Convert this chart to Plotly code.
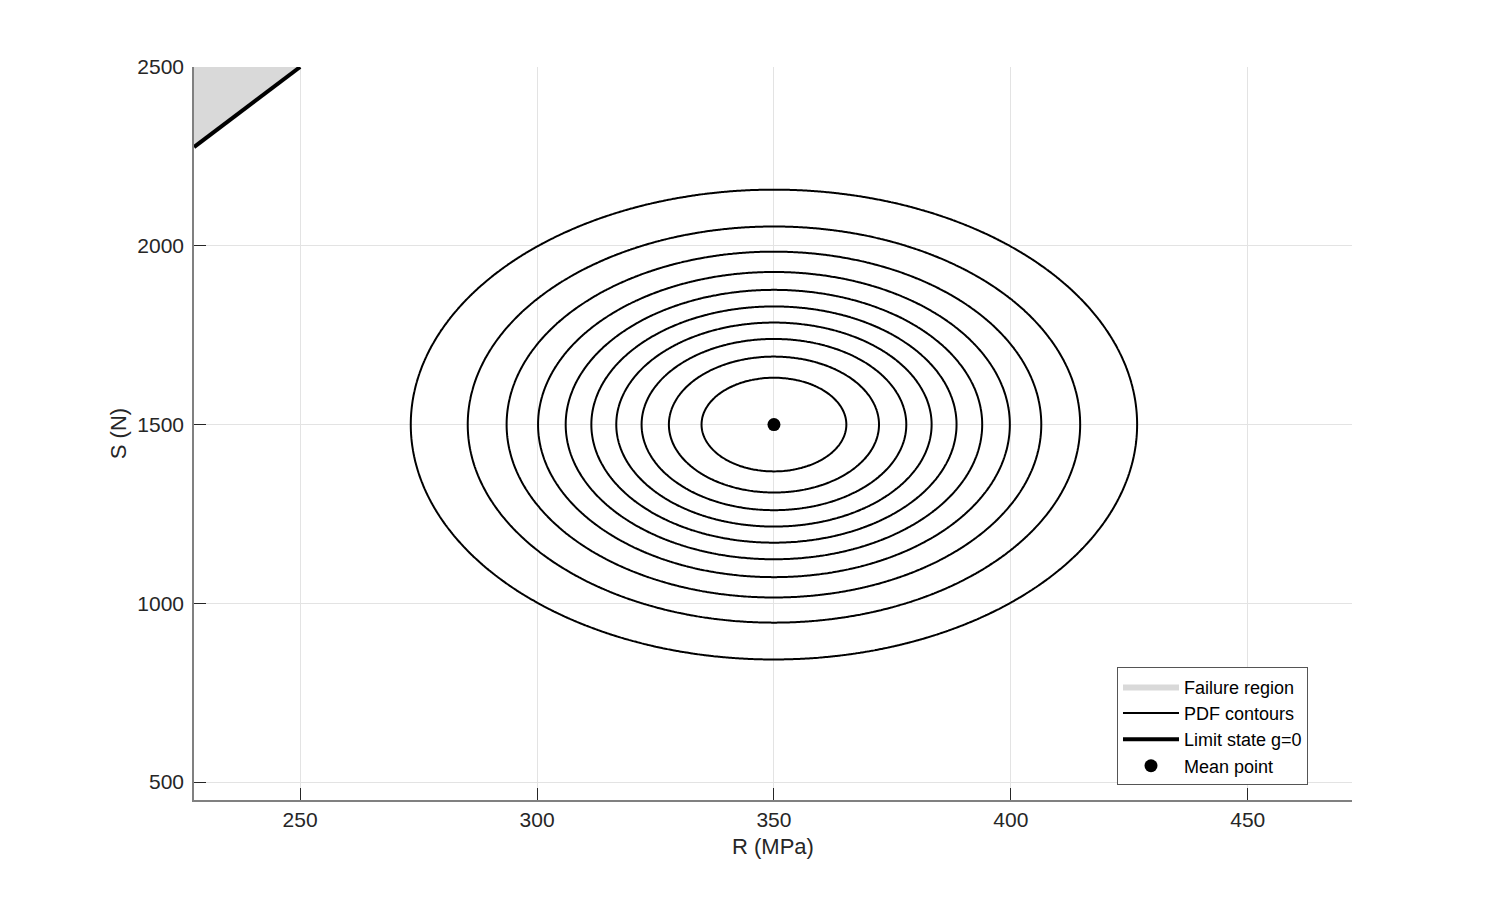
import numpy as np
import plotly.graph_objects as go

# Parameters
mu_R, sig_R = 350.0, 35.0      # R (MPa)
mu_S, sig_S = 1500.0, 300.0    # S (N)
limit_slope = 10.0             # g = 10*R - S = 0
n_levels = 10

x_range = [227.6, 472.0]
y_range = [450.0, 2500.0]
x_ticks = [250, 300, 350, 400, 450]
y_ticks = [500, 1000, 1500, 2000, 2500]

# PDF grid
xg = np.linspace(x_range[0], x_range[1], 500)
yg = np.linspace(y_range[0], y_range[1], 500)
X, Y = np.meshgrid(xg, yg)
Z = np.exp(-0.5 * (((X - mu_R) / sig_R) ** 2 + ((Y - mu_S) / sig_S) ** 2)) / (2 * np.pi * sig_R * sig_S)
peak = 1.0 / (2 * np.pi * sig_R * sig_S)
step = peak / (n_levels + 1)

# limit state line within the axes
r_top = y_range[1] / limit_slope
lx = [x_range[0], r_top]
ly = [limit_slope * x_range[0], y_range[1]]

fig = go.Figure()

fig.add_trace(go.Scatter(
    x=[x_range[0], r_top, x_range[0], x_range[0]],
    y=[limit_slope * x_range[0], y_range[1], y_range[1], limit_slope * x_range[0]],
    fill='toself', fillcolor='#d9d9d9', mode='lines', line=dict(width=0, color='#d9d9d9'),
    name='Failure region'))

fig.add_trace(go.Contour(
    x=xg, y=yg, z=Z, name='PDF contours', showlegend=True,
    contours=dict(coloring='lines', start=step, end=step * (n_levels + 0.5), size=step, showlabels=False),
    colorscale=[[0, 'black'], [1, 'black']], showscale=False,
    line=dict(width=2, color='black'), hoverinfo='skip'))

fig.add_trace(go.Scatter(x=lx, y=ly, mode='lines', line=dict(color='black', width=4),
                         name='Limit state g=0'))

fig.add_trace(go.Scatter(x=[mu_R], y=[mu_S], mode='markers',
                         marker=dict(color='black', size=13), name='Mean point'))

axis_common = dict(showline=True, linecolor='#808080', linewidth=1.5, mirror=False,
                   ticks='inside', ticklen=12, tickcolor='#262626', tickwidth=1,
                   showgrid=True, gridcolor='#e3e3e3', gridwidth=1, zeroline=False,
                   tickfont=dict(family='Liberation Sans, Arial', size=21, color='#262626'))

fig.update_layout(
    width=1494, height=899,
    margin=dict(l=186, r=150, t=59, b=107),
    plot_bgcolor='white', paper_bgcolor='white',
    font=dict(family='Liberation Sans, Arial', color='#262626'),
    xaxis=dict(range=x_range, tickvals=x_ticks, ticklabelstandoff=0,
               title=dict(text='R (MPa)', font=dict(size=22), standoff=9),
               **axis_common),
    yaxis=dict(range=y_range, tickvals=y_ticks, ticklabelstandoff=4,
               title=dict(text='S (N)', font=dict(size=22), standoff=5),
               **axis_common),
    legend=dict(x=0.962, y=0.02, xanchor='right', yanchor='bottom',
                bgcolor='white', bordercolor='#555555', borderwidth=1,
                font=dict(family='Liberation Sans, Arial', size=18, color='black'),
                tracegroupgap=0, itemwidth=56),
    showlegend=True,
)

fig.write_html("out.html")
